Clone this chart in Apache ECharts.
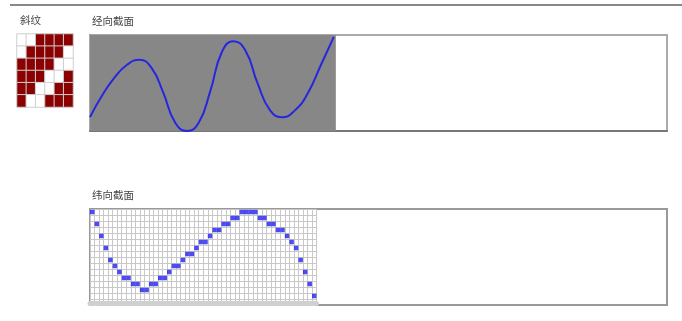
<!DOCTYPE html>
<html>
<head>
<meta charset="utf-8">
<style>
html, body { margin: 0; padding: 0; background: #fff; }
#main { width: 682px; height: 321px; }
</style>
<script src="https://cdn.jsdelivr.net/npm/echarts@6/dist/echarts.min.js"></script>
</head>
<body>
<div id="main"></div>
<script>
// 斜纹组织图，1 = 经组织点
var weaveRows = [
    [0, 0, 1, 1, 1, 1],
    [0, 1, 1, 1, 1, 0],
    [1, 1, 1, 1, 0, 0],
    [1, 1, 1, 0, 0, 1],
    [1, 1, 0, 0, 1, 1],
    [1, 0, 0, 1, 1, 1]
];

// 经向截面曲线（峰谷之间按四分点取值）
var warpX = [0, 1.22, 2.43, 3.65, 4.86, 6.04, 7.21, 8.39, 9.56, 10.7, 11.84, 12.98, 14.12, 15.31, 16.5, 17.7, 18.89, 20.17, 21.45, 22.72, 24];
var warpY = [-0.71, -0.25, 0.115, 0.38, 0.485, 0.32, -0.2, -0.83, -1.0, -0.83, -0.17, 0.645, 0.87, 0.67, -0.01, -0.56, -0.715, -0.57, -0.21, 0.37, 0.96];
var warpAxisMax = 56.8;
var warpFillEnd = 24.2;

// 纬向截面点阵：每一列所在的行号（从上往下）
var weftRows = [0, 2, 4, 6, 8, 9, 10, 11, 11, 12, 12, 13, 13, 12, 12, 11, 11, 10, 9, 9, 8, 7, 7, 6, 5, 5, 4, 3, 3, 2, 2, 1, 1, 0, 0, 0, 0, 1, 1, 2, 2, 3, 3, 4, 5, 6, 8, 10, 12, 14];
var weftRowCount = 16;

var titles = ['斜纹', '经向截面', '纬向截面'];

var myChart = echarts.init(document.getElementById('main'));

// 组织图数据
var weaveData = [];
weaveRows.forEach(function (row, r) {
    row.forEach(function (v, c) {
        weaveData.push([c, r, v]);
    });
});
var weaveCats = weaveRows[0].map(function (v, i) { return i; });

var warpData = warpX.map(function (x, i) { return [x, warpY[i]]; });

var weftCols = weftRows.map(function (v, i) { return i; });
var weftRowCats = [];
for (var i = 0; i < weftRowCount; i++) weftRowCats.push(i);
var weftData = weftRows.map(function (r, i) { return [i, r]; });

var txt = { fontSize: 10.5, fontWeight: 'normal', color: '#444', fontFamily: 'Noto Sans CJK SC' };

var option = {
    backgroundColor: '#fff',
    animation: false,
    title: [
        { text: titles[0], left: 20, top: 15, padding: 0, textStyle: txt },
        { text: titles[1], left: 92, top: 16, padding: 0, textStyle: txt },
        { text: titles[2], left: 92, top: 190, padding: 0, textStyle: txt }
    ],
    graphic: [{
        type: 'line',
        shape: { x1: 10, y1: 5, x2: 682, y2: 5 },
        style: { stroke: '#888', lineWidth: 2 }
    }],
    grid: [
        { left: 17, top: 34, width: 56, height: 73 },
        { left: 90, top: 35, width: 577, height: 96, show: true, borderColor: '#aaa', borderWidth: 2 },
        { left: 90, top: 209, width: 226.5, height: 96 },
        { left: 90, top: 209, width: 577, height: 96, show: true, borderColor: '#999', borderWidth: 2 }
    ],
    xAxis: [
        { gridIndex: 0, type: 'category', data: weaveCats, show: false },
        {
            gridIndex: 1, type: 'value', min: 0, max: warpAxisMax,
            axisLine: { show: true, onZero: false, lineStyle: { color: '#777', width: 2 } },
            axisTick: { show: false }, axisLabel: { show: false }, splitLine: { show: false }
        },
        {
            gridIndex: 2, type: 'category', data: weftCols, offset: -2,
            axisLine: { show: true, lineStyle: { color: '#d0d0d0', width: 5 } },
            axisTick: { show: false }, axisLabel: { show: false },
            splitLine: { show: true, interval: 0, lineStyle: { color: '#c8c8c8', width: 1 } }
        },
        { gridIndex: 3, type: 'value', show: false }
    ],
    yAxis: [
        { gridIndex: 0, type: 'category', data: weaveCats, inverse: true, show: false },
        {
            gridIndex: 1, type: 'value', min: -1, max: 1,
            axisLine: { show: true, lineStyle: { color: '#666', width: 1 } },
            axisTick: { show: false }, axisLabel: { show: false }, splitLine: { show: false }
        },
        {
            gridIndex: 2, type: 'category', data: weftRowCats, inverse: true,
            axisLine: { show: false }, axisTick: { show: false }, axisLabel: { show: false },
            splitLine: { show: true, interval: 0, lineStyle: { color: '#c8c8c8', width: 1 } }
        },
        { gridIndex: 3, type: 'value', show: false }
    ],
    visualMap: {
        show: false,
        type: 'piecewise',
        seriesIndex: 0,
        pieces: [
            { value: 0, color: '#ffffff' },
            { value: 1, color: '#8b0000' }
        ]
    },
    series: [
        {
            type: 'heatmap',
            xAxisIndex: 0,
            yAxisIndex: 0,
            data: weaveData,
            itemStyle: { borderColor: '#cfcfcf', borderWidth: 1 }
        },
        {
            type: 'line',
            xAxisIndex: 1,
            yAxisIndex: 1,
            data: warpData,
            smooth: true,
            showSymbol: false,
            clip: true,
            lineStyle: { color: '#2626e0', width: 2 },
            markArea: {
                silent: true,
                itemStyle: { color: '#878787', opacity: 1 },
                data: [[{ xAxis: 0 }, { xAxis: warpFillEnd }]]
            }
        },
        {
            type: 'scatter',
            xAxisIndex: 2,
            yAxisIndex: 2,
            data: weftData,
            symbol: 'rect',
            symbolSize: [4.5, 4.5],
            itemStyle: { color: '#1f1fef' }
        }
    ]
};

myChart.setOption(option);
</script>
</body>
</html>
